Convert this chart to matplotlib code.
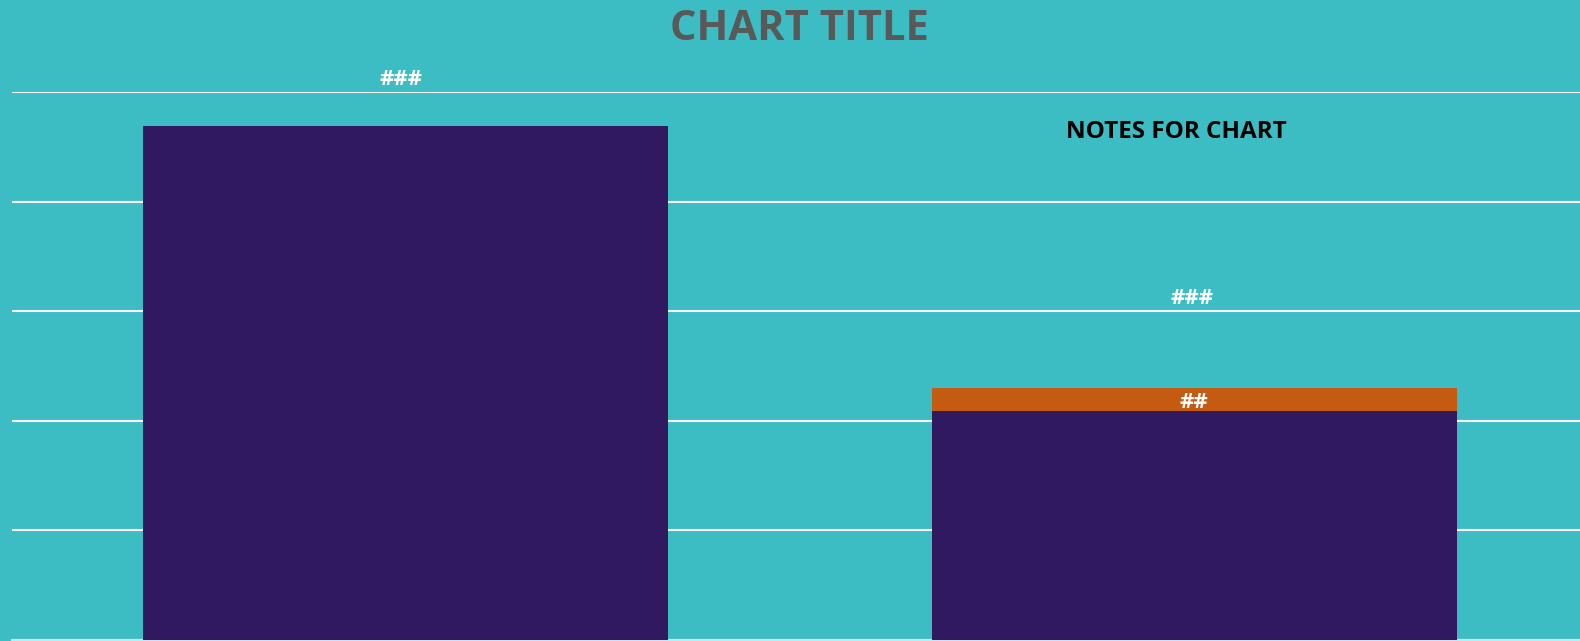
import matplotlib.pyplot as plt

# chart data (scale assumed 0-100)
categories = ['A', 'B']
base_values = [93.9, 41.8]
top_values = [0.0, 4.2]
top_labels = ['###', '###']
top_label_pos = [102.4, 62.3]
seg_labels = ['', '##']

bg = '#3CBDC4'
purple = '#30195F'
orange = '#C55A11'

plt.rcParams['font.family'] = ['Open Sans', 'DejaVu Sans']

fig = plt.figure(figsize=(15.8, 6.41), dpi=100, facecolor=bg)
# axes placed in figure pixels: x 12..1580, y 92..639.5 (from top)
ax = fig.add_axes([12 / 1580, (641 - 639.5) / 641, 1568 / 1580, (639.5 - 92.3) / 641])
ax.set_facecolor(bg)

x = list(range(len(categories)))
ax.bar(x, base_values, width=0.666, color=purple, zorder=3)
ax.bar(x, top_values, width=0.666, bottom=base_values, color=orange, zorder=3)

ax.set_xlim(-0.4992, 1.4894)
ax.set_ylim(0, 100)
ax.set_yticks([0, 20, 40, 60, 80, 100])
ax.yaxis.grid(True, color='white', linewidth=1.5, zorder=0)
ax.tick_params(left=False, bottom=False, labelleft=False, labelbottom=False)
for s in ['top', 'right', 'left']:
    ax.spines[s].set_visible(False)
ax.spines['bottom'].set_color('#D0E4E6')
ax.spines['bottom'].set_linewidth(1.5)

# data labels
offsets = [-0.006, -0.003]
for i in x:
    ax.text(i + offsets[i], top_label_pos[i], top_labels[i], ha='center', va='center',
            color='white', fontsize=16, fontweight='bold', clip_on=False, zorder=5)
    if seg_labels[i]:
        ax.text(i, base_values[i] + top_values[i] / 2 - 0.5, seg_labels[i], ha='center', va='center',
                color='white', fontsize=16, fontweight='bold', zorder=5)

ax.text(0.977, 92.7, 'NOTES FOR CHART', ha='center', va='center',
        color='black', fontsize=17.5, fontweight='bold', zorder=5)

fig.text(799 / 1580, 1 - 29 / 641, 'CHART TITLE', ha='center', va='center',
         color='#595959', fontsize=30, fontweight='bold')

fig.savefig('out.png', dpi=100, facecolor=bg)
